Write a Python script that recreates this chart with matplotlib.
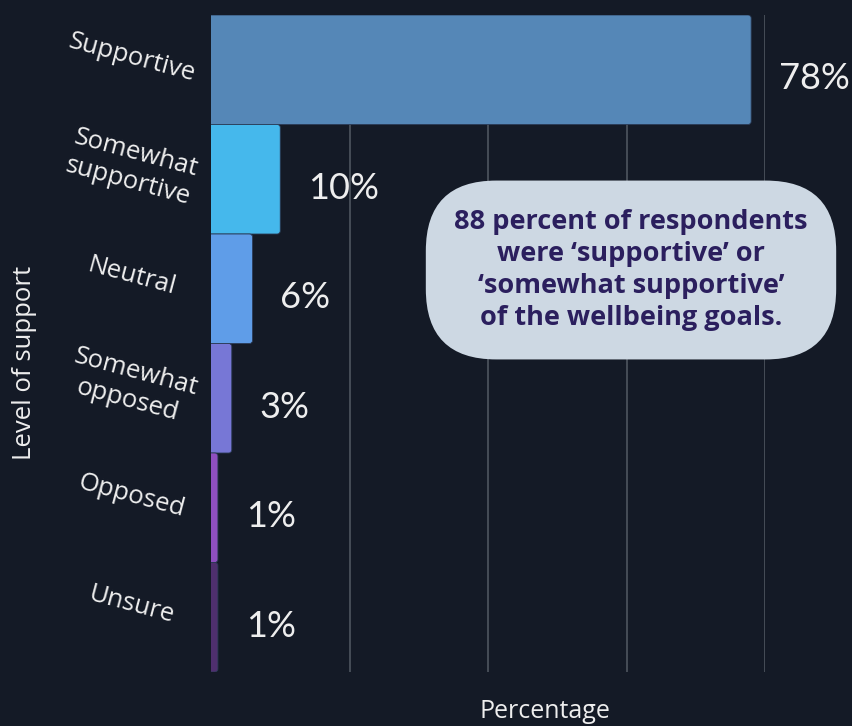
import matplotlib.pyplot as plt
from matplotlib.patches import FancyBboxPatch

# Datos de la encuesta
categorias = ['Supportive', 'Somewhat\nsupportive', 'Neutral', 'Somewhat\nopposed', 'Opposed', 'Unsure']
porcentajes = [78, 10, 6, 3, 1, 1]
colores = ['#5587b7', '#45b8ec', '#5f9de8', '#7777d6', '#8f4fc0', '#4f2f6e']
nota = "88 percent of respondents\nwere \u2018supportive\u2019 or\n\u2018somewhat supportive\u2019\nof the wellbeing goals."

fondo = '#141a26'
texto = '#eeeeee'

fig = plt.figure(figsize=(8.52, 7.26), dpi=100, facecolor=fondo)
ax = fig.add_axes([211 / 852, 1 - 672 / 726, (765 - 211) / 852, (672 - 15) / 726])
ax.set_facecolor(fondo)

y = list(range(len(categorias)))
barras = ax.barh(y, porcentajes, height=1.0, color=colores)

# Sustituir las barras por rectángulos con esquinas redondeadas
aspecto = (6 / 657) / (80 / 554)
for barra, color in zip(barras, colores):
    barra.set_visible(False)
    x0, y0 = barra.get_x(), barra.get_y()
    w, h = barra.get_width(), barra.get_height()
    caja = FancyBboxPatch((x0 - 0.6, y0), w + 0.6, h,
                          boxstyle="round,pad=0,rounding_size=0.45",
                          mutation_aspect=aspecto, facecolor=color,
                          edgecolor='#2a3a55', linewidth=0.6, zorder=3)
    ax.add_patch(caja)

# Etiquetas de valor
for yi, v in zip(y, porcentajes):
    ax.text(v + 4.0, yi + 0.08, f"{v}%", va='center', ha='left',
            color=texto, fontsize=26, family='Lato', zorder=4)

ax.set_xlim(0, 80)
ax.set_ylim(5.5, -0.5)
ax.set_xticks([0, 20, 40, 60, 80])
ax.set_xticklabels([])
ax.tick_params(axis='x', length=0)
ax.grid(axis='x', color='#4a515b', linewidth=1.3, zorder=0)
ax.set_axisbelow(True)
for s in ax.spines.values():
    s.set_visible(False)

# Nombres de categoría inclinados, centrados a la izquierda del eje
ax.set_yticks(y)
ax.set_yticklabels([])
ax.tick_params(axis='y', length=0)
for yi, cat in zip(y, categorias):
    ax.text(-0.143, yi - 0.11, cat, transform=ax.get_yaxis_transform(),
            rotation=-15, ha='center', va='center', rotation_mode='anchor',
            multialignment='center', color=texto, fontsize=18.5,
            family='Open Sans', linespacing=1.25, clip_on=False)

fig.text(25 / 852, 1 - 363 / 726, 'Level of support', rotation=90, ha='center', va='center',
         color=texto, fontsize=18.5, family='Open Sans')
fig.text(545 / 852, 1 - 712 / 726, 'Percentage', ha='center', va='center',
         color=texto, fontsize=18, family='Open Sans')

# Recuadro con la nota
fig.text(631 / 852, 1 - 270 / 726, nota, ha='center', va='center', multialignment='center',
         color='#2b1f5e', fontsize=19.5, fontweight='bold', family='Open Sans', linespacing=1.3,
         bbox=dict(boxstyle='round,pad=1.05,rounding_size=2.6', facecolor='#cdd8e3', edgecolor='none'),
         zorder=5)

fig.savefig('out.png', dpi=100, facecolor=fondo)
